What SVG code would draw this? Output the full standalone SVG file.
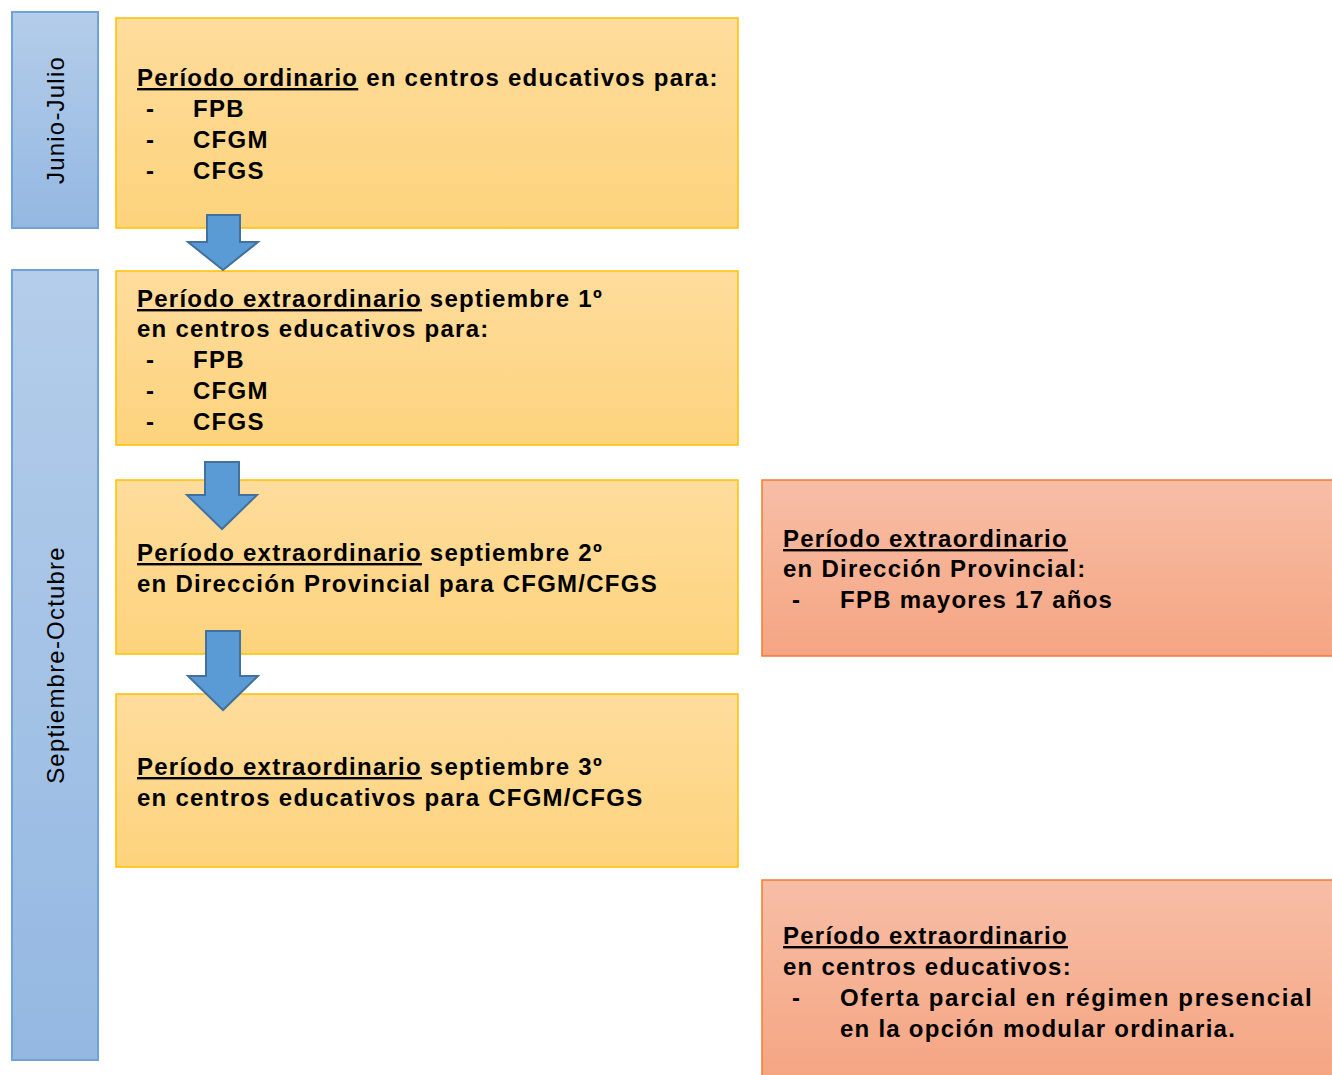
<svg xmlns="http://www.w3.org/2000/svg" width="1332" height="1075" viewBox="0 0 1332 1075">
<defs>
<linearGradient id="gy" x1="0" y1="0" x2="0" y2="1"><stop offset="0" stop-color="#FEDC9C"/><stop offset="1" stop-color="#FDD37C"/></linearGradient>
<linearGradient id="gr" x1="0" y1="0" x2="0" y2="1"><stop offset="0" stop-color="#F7BEA6"/><stop offset="1" stop-color="#F5A582"/></linearGradient>
<linearGradient id="gb" x1="0" y1="0" x2="0" y2="1"><stop offset="0" stop-color="#B4CDEA"/><stop offset="1" stop-color="#94B8E2"/></linearGradient>
<style>
.y{fill:url(#gy);stroke:#FFC000;stroke-width:1.5}
.r{fill:url(#gr);stroke:#ED7D31;stroke-width:1.5}
.b{fill:url(#gb);stroke:#6FA3D8;stroke-width:2}
.a{fill:#5B9BD5;stroke:#41719C;stroke-width:2}
.t{font-family:"Liberation Sans",Arial,sans-serif;font-size:24px;font-weight:bold;fill:#000;letter-spacing:1.25px}
.v{font-family:"Liberation Sans",Arial,sans-serif;font-size:24px;fill:#000;letter-spacing:1.2px}
.u{text-decoration:underline}
</style>
</defs>
<g id="junio-julio"><rect class="b" x="12" y="12" width="86" height="216"/><text class="v" transform="translate(64,120) rotate(-90)" text-anchor="middle">Junio-Julio</text></g>
<g id="septiembre-octubre"><rect class="b" x="12" y="270" width="86" height="790"/><text class="v" transform="translate(64,665) rotate(-90)" text-anchor="middle">Septiembre-Octubre</text></g>
<g id="box1"><rect class="y" x="116" y="18" width="622" height="210"/>
<text class="t" x="137" y="86"><tspan class="u">Período ordinario</tspan> en centros educativos para:</text>
<text class="t" x="146" y="117">-</text><text class="t" x="193" y="117">FPB</text>
<text class="t" x="146" y="148">-</text><text class="t" x="193" y="148">CFGM</text>
<text class="t" x="146" y="179">-</text><text class="t" x="193" y="179">CFGS</text>
</g>
<g id="box2"><rect class="y" x="116" y="271" width="622" height="174"/>
<text class="t" x="137" y="307"><tspan class="u">Período extraordinario</tspan> septiembre 1º</text>
<text class="t" x="137" y="337">en centros educativos para:</text>
<text class="t" x="146" y="368">-</text><text class="t" x="193" y="368">FPB</text>
<text class="t" x="146" y="399">-</text><text class="t" x="193" y="399">CFGM</text>
<text class="t" x="146" y="430">-</text><text class="t" x="193" y="430">CFGS</text>
</g>
<g id="box3"><rect class="y" x="116" y="480" width="622" height="174"/>
<text class="t" x="137" y="561"><tspan class="u">Período extraordinario</tspan> septiembre 2º</text>
<text class="t" x="137" y="592">en Dirección Provincial para CFGM/CFGS</text>
</g>
<g id="box4"><rect class="y" x="116" y="694" width="622" height="173"/>
<text class="t" x="137" y="775"><tspan class="u">Período extraordinario</tspan> septiembre 3º</text>
<text class="t" x="137" y="806">en centros educativos para CFGM/CFGS</text>
</g>
<g id="red1"><rect class="r" x="762" y="480" width="572" height="176"/>
<text class="t" x="783" y="547"><tspan class="u">Período extraordinario</tspan></text>
<text class="t" x="783" y="577">en Dirección Provincial:</text>
<text class="t" x="792" y="608">-</text><text class="t" x="840" y="608">FPB mayores 17 años</text>
</g>
<g id="red2"><rect class="r" x="762" y="880" width="572" height="200"/>
<text class="t" x="783" y="944"><tspan class="u">Período extraordinario</tspan></text>
<text class="t" x="783" y="975">en centros educativos:</text>
<text class="t" x="792" y="1006">-</text><text class="t" x="840" y="1006" textLength="473" lengthAdjust="spacing">Oferta parcial en régimen presencial</text>
<text class="t" x="840" y="1037">en la opción modular ordinaria.</text>
</g>
<g id="connectors">
<path class="a" d="M207,215 H240 V242 H258 L223,270 L188,242 H207 Z"/>
<path class="a" d="M205,462 H239 V495 H257 L222,529 L187,495 H205 Z"/>
<path class="a" d="M206,631 H240 V676 H258 L223,710 L188,676 H206 Z"/>
</g>
</svg>
